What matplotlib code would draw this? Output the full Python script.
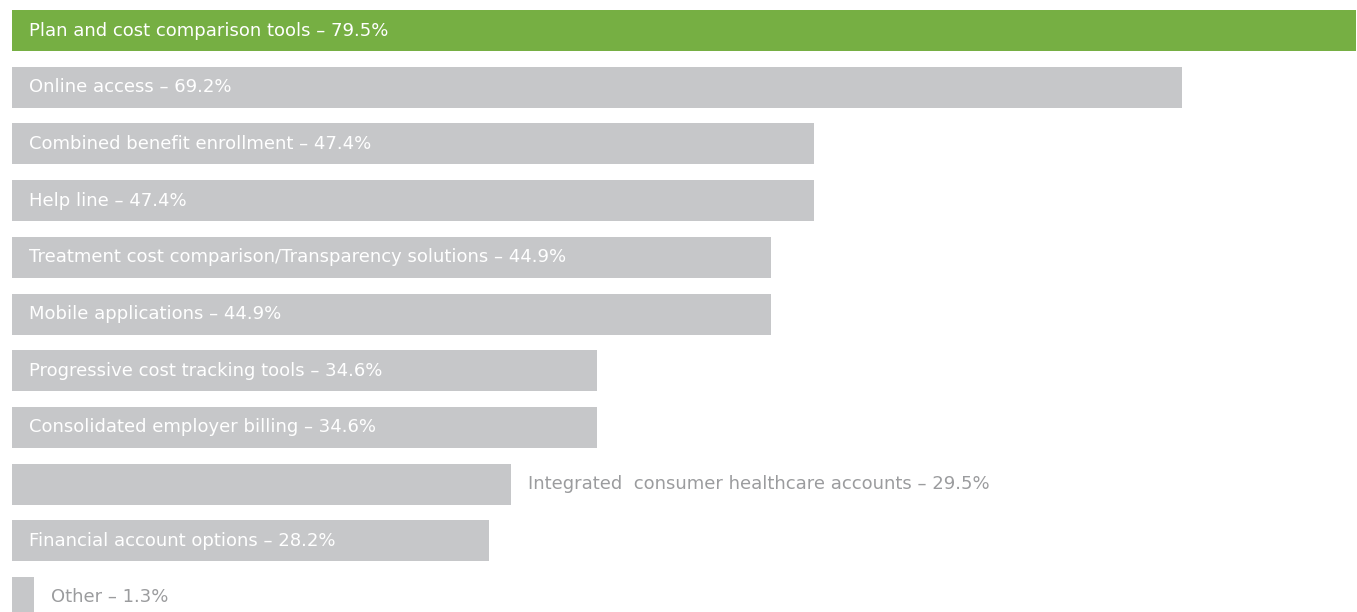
import matplotlib
matplotlib.use("Agg")
import matplotlib.pyplot as plt

categories = [
    "Plan and cost comparison tools",
    "Online access",
    "Combined benefit enrollment",
    "Help line",
    "Treatment cost comparison/Transparency solutions",
    "Mobile applications",
    "Progressive cost tracking tools",
    "Consolidated employer billing",
    "Integrated  consumer healthcare accounts",
    "Financial account options",
    "Other",
]
values = [79.5, 69.2, 47.4, 47.4, 44.9, 44.9, 34.6, 34.6, 29.5, 28.2, 1.3]

GREEN = "#76AF43"
GRAY = "#C6C7C9"
OUT_TEXT = "#9B9C9E"

plt.rcParams["font.family"] = ["DejaVu Sans"]

W, H, DPI = 1357, 612, 100
fig = plt.figure(figsize=(W / DPI, H / DPI), dpi=DPI)
ax = fig.add_axes([0, 0, 1, 1])

px_per_unit = 16.91
left_px = 12
ax.set_xlim(-left_px / px_per_unit, (W - left_px) / px_per_unit)
pitch = 56.7
first_center = 30.5
ax.set_ylim((H - first_center) / pitch, -first_center / pitch)
ax.axis("off")

ypos = list(range(len(values)))
colors = [GREEN] + [GRAY] * (len(values) - 1)
ax.barh(ypos, values, height=41 / pitch, color=colors, left=0, linewidth=0)

FS = 13.0
pad_px = 17
pad_pt = pad_px * 72 / DPI
renderer = fig.canvas.get_renderer()
for y, cat, v in zip(ypos, categories, values):
    label = f"{cat} \u2013 {v}%"
    t = ax.annotate(label, xy=(0, y), xytext=(pad_pt, 0), textcoords="offset points",
                    va="center", ha="left", fontsize=FS, color="white")
    bb = t.get_window_extent(renderer)
    bar_end_px = ax.transData.transform((v, y))[0]
    # labels that need more room than the bar offers go just past its end
    if bb.x1 + 2 * pad_px > bar_end_px:
        t.remove()
        ax.annotate(label, xy=(v, y), xytext=(pad_pt, 0), textcoords="offset points",
                    va="center", ha="left", fontsize=FS, color=OUT_TEXT)

fig.savefig("out.png", dpi=DPI)
